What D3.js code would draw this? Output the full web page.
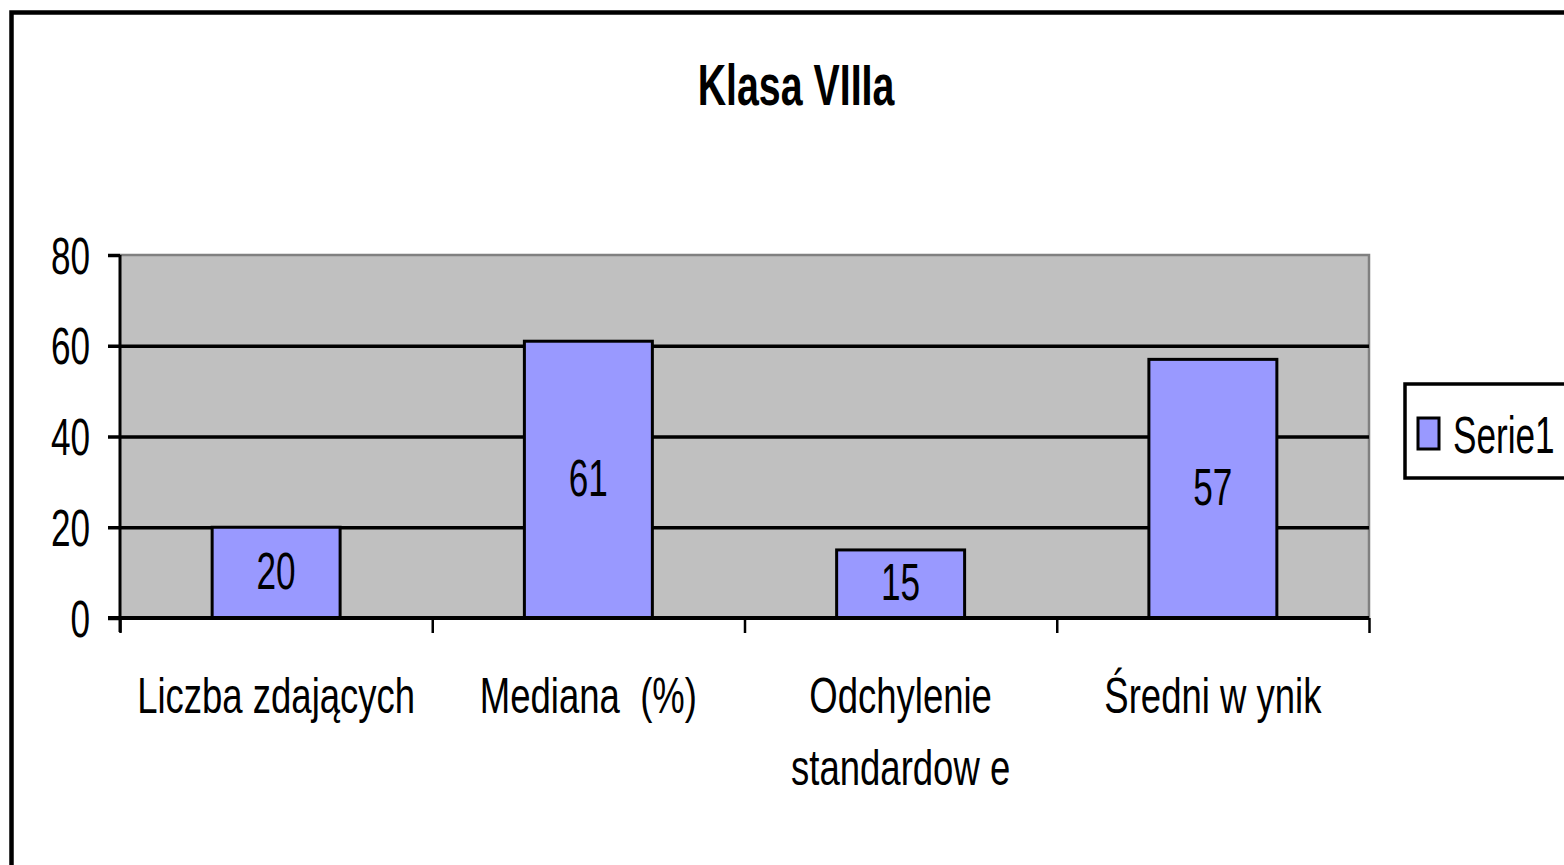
<!DOCTYPE html>
<html>
<head>
<meta charset="utf-8">
<script src="https://cdn.jsdelivr.net/npm/d3@7"></script>
<style>
  body { margin: 0; background: #fff; }
  text { font-family: "Liberation Sans", Arial, sans-serif; fill: #000; white-space: pre; }
</style>
</head>
<body>
<svg width="1564" height="865"></svg>
<script>
const categories = [["Liczba zdających"], ["Mediana  (%)"], ["Odchylenie", "standardow e"], ["Średni w ynik"]];
const values = [20, 61, 15, 57];
const yTicks = [0, 20, 40, 60, 80];
const seriesName = "Serie1";
const title = "Klasa VIIIa";

const sx = 0.69;    // horizontal squeeze of the text
const sxCat = 0.73; // category labels are a little wider
const plot = { left: 120, right: 1369, top: 255, bottom: 618 };

const svg = d3.select("svg");

// outer chart frame (runs off the right and bottom edges)
svg.append("rect")
    .attr("x", 11.5).attr("y", 12.5)
    .attr("width", 1600).attr("height", 900)
    .attr("fill", "none").attr("stroke", "#000").attr("stroke-width", 4.5);

const x = d3.scaleBand()
    .domain(d3.range(categories.length))
    .range([plot.left, plot.right])
    .paddingInner(0)
    .paddingOuter(0);

const y = d3.scaleLinear()
    .domain([0, 80])
    .range([plot.bottom, plot.top]);

// plot background
svg.append("rect")
    .attr("x", plot.left).attr("y", plot.top)
    .attr("width", plot.right - plot.left).attr("height", plot.bottom - plot.top)
    .attr("fill", "#c0c0c0");

// gray top/right border
svg.append("path")
    .attr("d", `M${plot.left},${plot.top}H${plot.right}V${plot.bottom}`)
    .attr("fill", "none").attr("stroke", "#808080").attr("stroke-width", 2.5);

// gridlines
svg.append("g")
    .attr("transform", `translate(${plot.left},0)`)
    .call(d3.axisLeft(y).tickValues(yTicks.filter(d => d > 0 && d < 80)).tickSize(-(plot.right - plot.left)).tickFormat(""))
    .call(g => g.select(".domain").remove())
    .call(g => g.selectAll("line").attr("stroke", "#000").attr("stroke-width", 3.5));

// bars
const barW = x.bandwidth() / 2.44;
svg.selectAll(".bar")
    .data(values)
    .enter()
    .append("rect")
    .attr("class", "bar")
    .attr("x", (d, i) => x(i) + (x.bandwidth() - barW) / 2)
    .attr("y", d => y(d))
    .attr("width", barW)
    .attr("height", d => y(0) - y(d))
    .attr("fill", "#9999ff")
    .attr("stroke", "#000")
    .attr("stroke-width", 3);

// value labels
svg.selectAll(".val")
    .data(values)
    .enter()
    .append("g")
    .attr("class", "val")
    .attr("transform", (d, i) => `translate(${x(i) + x.bandwidth() / 2},${(y(d) + y(0)) / 2 + 16}) scale(${sx},1)`)
    .append("text")
    .attr("text-anchor", "middle")
    .attr("font-size", 51)
    .text(d => d);

// y axis
svg.append("g")
    .attr("transform", `translate(${plot.left},0)`)
    .call(d3.axisLeft(y).tickValues(yTicks).tickSize(12).tickPadding(0))
    .call(g => g.select(".domain").attr("stroke", "#000").attr("stroke-width", 3)
        .attr("d", `M0,${plot.top}V${plot.bottom + 14}`))
    .call(g => g.selectAll("line").attr("stroke", "#000").attr("stroke-width", 3.5))
    .call(g => g.selectAll("text")
        .attr("x", -30 / sx).attr("dy", null).attr("y", 18)
        .attr("transform", `scale(${sx},1)`)
        .attr("font-size", 51).attr("font-family", null).attr("fill", "#000"));

// x axis with ticks at the category boundaries
const xEdges = d3.scaleLinear().domain([0, categories.length]).range([plot.left, plot.right]);
svg.append("g")
    .attr("transform", `translate(0,${plot.bottom})`)
    .call(d3.axisBottom(xEdges).ticks(categories.length).tickSize(15).tickFormat(""))
    .call(g => g.select(".domain").attr("stroke", "#000").attr("stroke-width", 4)
        .attr("d", `M${plot.left - 12},0H${plot.right}`))
    .call(g => g.selectAll("line").attr("stroke", "#000").attr("stroke-width", 2.5));

// category labels
const catG = svg.selectAll(".cat")
    .data(categories)
    .enter()
    .append("g")
    .attr("class", "cat")
    .attr("transform", (d, i) => `translate(${x(i) + x.bandwidth() / 2},713) scale(${sxCat},1)`);
catG.each(function (lines) {
    d3.select(this).selectAll("text")
        .data(lines)
        .enter()
        .append("text")
        .attr("text-anchor", "middle")
        .attr("font-size", 50)
        .attr("y", (d, j) => j * 72)
        .text(d => d);
});

// title
svg.append("g")
    .attr("transform", `translate(796,105) scale(${sx},1)`)
    .append("text")
    .attr("text-anchor", "middle")
    .attr("font-size", 57)
    .attr("font-weight", "bold")
    .text(title);

// legend
const leg = svg.append("g");
leg.append("rect")
    .attr("x", 1405).attr("y", 384)
    .attr("width", 200).attr("height", 94)
    .attr("fill", "#fff").attr("stroke", "#000").attr("stroke-width", 3.5);
leg.append("rect")
    .attr("x", 1418).attr("y", 418)
    .attr("width", 21).attr("height", 31)
    .attr("fill", "#9999ff").attr("stroke", "#000").attr("stroke-width", 3);
leg.append("g")
    .attr("transform", `translate(1453,453) scale(${sx},1)`)
    .append("text")
    .attr("font-size", 51)
    .text(seriesName);
</script>
</body>
</html>
